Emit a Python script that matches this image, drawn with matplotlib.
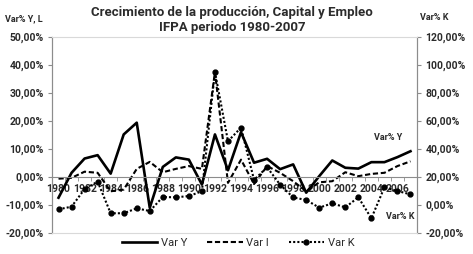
import numpy as np
import matplotlib.pyplot as plt
from matplotlib.ticker import FuncFormatter, FixedLocator
from matplotlib.lines import Line2D

# data (percent)
years = list(range(1980, 2008))
var_y = [-7.4, 1.5, 6.6, 7.8, 1.2, 15.2, 19.4, -11.0, 3.6, 7.0, 6.2, -2.7, 15.2, 2.4,
         16.0, 5.1, 6.5, 2.8, 4.5, -5.6, 0.3, 5.9, 3.3, 3.0, 5.3, 5.3, 7.1, 9.2]
var_i = [-0.6, -0.3, 1.9, 1.5, -5.1, -4.5, 2.9, 5.4, 1.7, 2.9, 3.9, 2.9, 37.5, -2.1,
         6.2, -2.5, 3.9, 1.5, -1.5, -5.1, -1.9, -1.5, 1.7, 0.3, 1.1, 1.5, 3.9, 5.6]
var_k = [-3.1, -1.2, 11.4, 16.7, -5.9, -5.9, -2.4, -4.3, 5.7, 5.5, 6.4, 9.8, 95.2, 45.5,
         55.3, 17.9, 27.0, 14.5, 5.4, 3.6, -1.9, 1.2, -1.7, 5.5, -9.5, 12.6, 10.0, 7.6]
year_labels = [str(y) if y % 2 == 0 else '' for y in years]

plt.rcParams['font.family'] = ['Roboto', 'DejaVu Sans']
txt = '#2b2b2b'

def pct(v, pos):
    return ('%.2f%%' % v).replace('.', ',')

fig = plt.figure(figsize=(4.73, 2.54), dpi=100)
ax = fig.add_axes([52 / 473, 21 / 254, 365 / 473, 196 / 254])
ax2 = ax.twinx()

x = np.arange(len(years))
ax.plot(x, var_y, color='black', linewidth=1.9, label='Var Y')
ax.plot(x, var_i, color='black', linewidth=1.5, linestyle=(0, (2.5, 1.3)), label='Var I')
ax2.plot(x, var_k, color='black', linewidth=1.5, linestyle=(0, (1, 1)),
         marker='o', markersize=3.5, label='Var K')

ax.set_xlim(-0.5, len(years) - 0.5)
ax.set_ylim(-20, 50)
ax.set_yticks(np.arange(-20, 51, 10))
ax2.set_ylim(-20, 120)
ax2.set_yticks(np.arange(-20, 121, 20))
ax.yaxis.set_major_formatter(FuncFormatter(pct))
ax2.yaxis.set_major_formatter(FuncFormatter(pct))

# category axis crosses at zero
ax.spines['bottom'].set_position(('data', 0))
ax.spines['bottom'].set_color('#8c8c8c')
ax.set_xticks(x)
ax.set_xticklabels(year_labels)
ax.xaxis.set_minor_locator(FixedLocator(np.arange(-0.5, len(years), 1)))
ax.tick_params(axis='x', which='major', length=0, pad=5, labelsize=7.5, labelcolor=txt)
ax.tick_params(axis='x', which='minor', length=3, color='#8c8c8c')
for lab in ax.get_xticklabels():
    lab.set_fontweight('bold')

for a in (ax, ax2):
    a.spines['left'].set_color('#8c8c8c')
    a.spines['right'].set_color('#8c8c8c')
ax.spines['top'].set_visible(False)
ax2.spines['top'].set_color('#d9d9d9')
ax2.spines['bottom'].set_color('#d9d9d9')

ax.tick_params(axis='y', length=3, color='#8c8c8c', labelsize=7.5, labelcolor=txt, pad=3)
ax2.tick_params(axis='y', length=3, color='#8c8c8c', labelsize=7.5, labelcolor=txt, pad=3)
for lab in ax.get_yticklabels() + ax2.get_yticklabels():
    lab.set_fontweight('bold')

fig.text(0.49, 1 - 20 / 254, 'Crecimiento de la producción, Capital y Empleo\nIFPA periodo 1980-2007',
         ha='center', va='center', fontsize=9.5, fontweight='bold', color=txt, linespacing=1.2)
fig.text(5 / 473, 1 - 19 / 254, 'Var% Y, L', ha='left', va='center', fontsize=6.5,
         fontweight='bold', color=txt)
fig.text(420 / 473, 1 - 17 / 254, 'Var% K', ha='left', va='center', fontsize=6.5,
         fontweight='bold', color=txt)
ax.text(25.3, 14.1, 'Var% Y', ha='center', va='center', fontsize=6.5, fontweight='bold', color=txt)
ax.text(26.2, -14.1, 'Var% K', ha='center', va='center', fontsize=6.5, fontweight='bold', color=txt)

handles = [Line2D([], [], color='black', linewidth=1.9),
           Line2D([], [], color='black', linewidth=1.5, linestyle=(0, (2.5, 1.3))),
           Line2D([], [], color='black', linewidth=1.5, linestyle=(0, (1, 1)),
                  marker='o', markersize=3.5)]
leg = fig.legend(handles, ['Var Y', 'Var I', 'Var K'], loc='center', ncol=3,
                 bbox_to_anchor=(238 / 473, 1 - 243 / 254), frameon=False,
                 fontsize=8, handlelength=3.2, columnspacing=1.8, handletextpad=0.3)
for t in leg.get_texts():
    t.set_color(txt)

fig.savefig('out.png', dpi=100)
